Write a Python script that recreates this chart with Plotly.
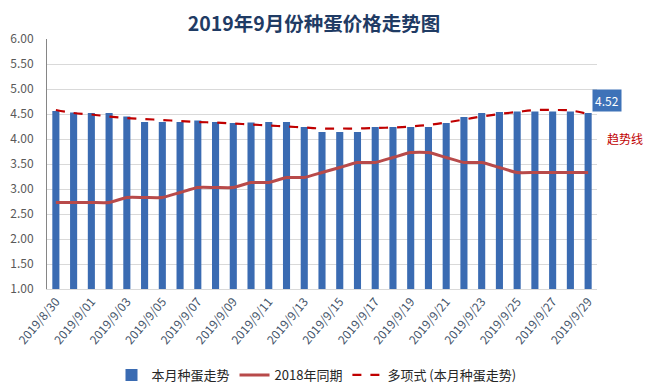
import plotly.graph_objects as go

dates = ["2019/8/30", "2019/8/31"] + [f"2019/9/{d:02d}" for d in range(1, 30)]

price_2019 = [4.56, 4.53, 4.52, 4.52, 4.45, 4.34, 4.34, 4.34, 4.37, 4.34,
              4.32, 4.33, 4.34, 4.34, 4.24, 4.14, 4.14, 4.14, 4.24, 4.24,
              4.24, 4.24, 4.32, 4.44, 4.52, 4.54, 4.55, 4.55, 4.55, 4.55, 4.52]

price_2018 = [2.73, 2.73, 2.73, 2.73, 2.83, 2.83, 2.83, 2.93, 3.03, 3.03,
              3.03, 3.13, 3.13, 3.23, 3.23, 3.33, 3.43, 3.53, 3.53, 3.63,
              3.73, 3.73, 3.63, 3.53, 3.53, 3.43, 3.33, 3.33, 3.33, 3.33, 3.33]

trend = [4.58, 4.52, 4.49, 4.45, 4.42, 4.40, 4.38, 4.36, 4.34, 4.33,
         4.31, 4.29, 4.27, 4.25, 4.23, 4.21, 4.21, 4.21, 4.22, 4.23,
         4.25, 4.28, 4.33, 4.39, 4.45, 4.50, 4.54, 4.58, 4.58, 4.57, 4.50]

tick_labels = dates[::2]
y_ticks = [1.0, 1.5, 2.0, 2.5, 3.0, 3.5, 4.0, 4.5, 5.0, 5.5, 6.0]

FONT = "Noto Sans CJK SC"

fig = go.Figure()
fig.add_trace(go.Bar(
    x=dates, y=price_2019, name="本月种蛋走势",
    marker=dict(color="#3A6BB2", line=dict(width=0)),
    width=0.4,
))
fig.add_trace(go.Scatter(
    x=dates, y=price_2018, name="2018年同期", mode="lines",
    line=dict(color="#B84A4A", width=3, shape="spline", smoothing=0.5),
))
fig.add_trace(go.Scatter(
    x=dates, y=trend, name="多项式 (本月种蛋走势)", mode="lines",
    line=dict(color="#C00000", width=2.2, dash="dash", shape="spline", smoothing=1.0),
))

fig.add_annotation(
    x=dates[-1], y=price_2019[-1], xref="x", yref="y",
    text=f"{price_2019[-1]:.2f}", showarrow=False,
    xanchor="left", yanchor="middle", xshift=4, yshift=13,
    font=dict(family=FONT, size=12, color="white"),
    bgcolor="#3E72B8", borderpad=2,
)
fig.add_annotation(
    x=1.051, y=0.604, xref="paper", yref="paper",
    text="趋势线", showarrow=False, xanchor="center", yanchor="middle",
    font=dict(family=FONT, size=12, color="#C00000"),
)

# page body has an 8px margin: the figure is 644x384 so it ends at the window edge
fig.update_layout(
    width=644, height=384,
    margin=dict(l=39, r=55, t=31, b=103, autoexpand=False),
    paper_bgcolor="white", plot_bgcolor="white",
    title=dict(text="<b>2019年9月份种蛋价格走势图</b>", x=0.475, xanchor="center",
               y=0.958, yanchor="middle",
               font=dict(family=FONT, size=19.5, color="#1F3B64")),
    showlegend=True,
    legend=dict(orientation="h", x=0.49, xanchor="center", y=-0.344, yanchor="middle",
                font=dict(family=FONT, size=13, color="#262626"),
                itemwidth=30, tracegroupgap=0),
    bargap=0.5,
)
fig.update_xaxes(
    type="category", range=[-0.5, len(dates) - 0.5],
    tickmode="array", tickvals=tick_labels, ticktext=tick_labels,
    tickangle=-50, tickfont=dict(family=FONT, size=12, color="#44546A"),
    showgrid=False, showline=True, linecolor="#D9D9D9", linewidth=1,
    ticks="", automargin=False,
)
fig.update_yaxes(
    range=[1, 6], tickmode="array", tickvals=y_ticks,
    ticktext=[f"{v:.2f}" for v in y_ticks],
    tickfont=dict(family=FONT, size=12, color="#595959"),
    ticklabelstandoff=10, automargin=False,
    showgrid=True, gridcolor="#D9D9D9", gridwidth=1,
    showline=True, linecolor="#868686", linewidth=1, ticks="",
    zeroline=False,
)

fig.write_html("out.html")
